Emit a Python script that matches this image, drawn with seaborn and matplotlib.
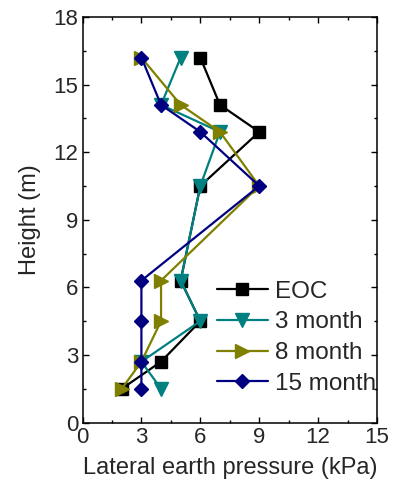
import matplotlib
matplotlib.use("Agg")
import matplotlib.pyplot as plt
import seaborn as sns
import pandas as pd
from matplotlib.ticker import MultipleLocator

# Measurement heights (m), top to bottom
heights = [16.2, 14.1, 12.9, 10.5, 6.3, 4.5, 2.7, 1.5]

# Lateral earth pressure (kPa) at each height
eoc = [6, 7, 9, 6, 5, 6, 4, 2]
month3 = [5, 4, 7, 6, 5, 6, 3, 4]
month8 = [3, 5, 7, 9, 4, 4, 3, 2]
month15 = [3, 4, 6, 9, 3, 3, 3, 3]

labels = ["EOC", "3 month", "8 month", "15 month"]
colors = ["#000000", "#008080", "#808000", "#000080"]
markers = ["s", "v", ">", "D"]
msizes = [8, 9.5, 9.5, 7]

sns.set_style("ticks")
plt.rcParams["font.family"] = ["Liberation Sans", "DejaVu Sans"]

fig = plt.figure(figsize=(3.94, 4.88), dpi=100)
ax = fig.add_axes([0.2094, 0.1342, 0.7475, 0.831])

series = [eoc, month3, month8, month15]
for vals, lab, col, mk, ms in zip(series, labels, colors, markers, msizes):
    df = pd.DataFrame({"pressure": vals, "height": heights})
    sns.lineplot(data=df, x="pressure", y="height", sort=False, orient="y",
                 color=col, marker=mk, markersize=ms, markeredgecolor=col,
                 markeredgewidth=1, linewidth=1.6, label=lab, ax=ax)

ax.set_xlim(0, 15)
ax.set_ylim(0, 18)
ax.xaxis.set_major_locator(MultipleLocator(3))
ax.xaxis.set_minor_locator(MultipleLocator(1.5))
ax.yaxis.set_major_locator(MultipleLocator(3))
ax.yaxis.set_minor_locator(MultipleLocator(1.5))
ax.tick_params(which="both", direction="in", top=True, right=True,
               width=1, color="black", labelsize=16, pad=3)
ax.tick_params(which="major", length=4.5)
ax.tick_params(which="minor", length=2.5)
for sp in ax.spines.values():
    sp.set_linewidth(1.1)
    sp.set_color("black")

ax.set_xlabel("Lateral earth pressure (kPa)", fontsize=17, labelpad=7)
ax.set_ylabel("Height (m)", fontsize=17, labelpad=9)

ax.legend(loc="upper left", bbox_to_anchor=(0.455, 0.35), frameon=False,
          fontsize=17.5, borderpad=0, borderaxespad=0, handlelength=2.1,
          handletextpad=0.3, labelspacing=0.36)

fig.savefig("out.png", dpi=100)
